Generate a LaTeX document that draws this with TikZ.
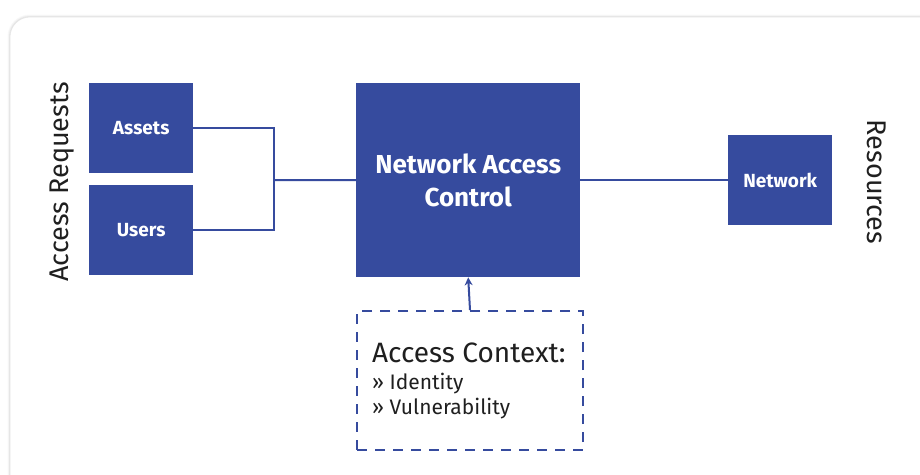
\documentclass[tikz,border=0pt]{standalone}
\usepackage{fontspec}
\setmainfont{Fira Sans}
\usetikzlibrary{arrows.meta}
\definecolor{nacblue}{RGB}{54,75,158}
\begin{document}
\begin{tikzpicture}[x=1pt,y=-1pt,
  blk/.style={fill=nacblue,draw=none,inner sep=0pt,anchor=north west},
  blktxt/.style={font=\fontsize{19}{22}\selectfont\bfseries,text=white,inner sep=0pt},
  conn/.style={draw=nacblue,line width=2pt},
  lbl/.style={font=\fontsize{27}{30}\selectfont,text=black!88,inner sep=0pt},
  ctxline/.style={anchor=base west,inner sep=0pt,text=black!88}]
\useasboundingbox (0,0) rectangle (920,474);
\fill[white] (0,0) rectangle (920,474);
% frame with soft shadow
\foreach \i/\c in {5/2,4/3,3/5,2/8,1/11}{
  \draw[black!\c,line width=\i pt,rounded corners=20pt] (10,17) rectangle (940,500);
}
\draw[black!10,fill=white,rounded corners=20pt,line width=0.6pt] (10,17) rectangle (940,500);
% blocks
\node[blk,minimum width=104pt,minimum height=90pt] (assets) at (89,83) {};
\node[blktxt] (assetst) at (assets.center) {Assets};
\node[blk,minimum width=104pt,minimum height=90pt] (users) at (89,185) {};
\node[blktxt] (userst) at (users.center) {Users};
\node[blk,minimum width=224pt,minimum height=194pt] (nac) at (356,83) {};
\node[font=\fontsize{26}{33}\selectfont\bfseries,text=white,align=center] (nact) at (nac.center) {Network Access\\Control};
\node[blk,minimum width=104pt,minimum height=90pt] (net) at (728,135) {};
\node[blktxt] (nett) at (net.center) {Network};
% context box
\node[draw=nacblue,dash pattern=on 10pt off 8pt,line width=2pt,minimum width=226pt,minimum height=139pt,anchor=north west,inner sep=0pt] (ctx) at (356,310) {};
\node[ctxline,font=\fontsize{28}{30}\selectfont] (c1) at (372,362) {Access Context:};
\node[ctxline,font=\fontsize{21}{24}\selectfont] (c2) at (372,389) {» Identity};
\node[ctxline,font=\fontsize{21}{24}\selectfont] (c3) at (372,414) {» Vulnerability};
% connectors
\coordinate (j) at (274,180);
\draw[conn] (assets.east) -| (j);
\draw[conn] (users.east) -| (j);
\draw[conn] (j) -- (nac.west);
\draw[conn] (nac.east |- net.west) -- (net.west);
\draw[conn,-{Stealth[length=8pt,width=8pt]}] (ctx.north) -- (nac.south);
% side labels
\node[lbl,rotate=90] (req) at (62,182) {Access Requests};
\node[lbl,rotate=-90] (res) at (877,182) {Resources};
\end{tikzpicture}
\end{document}
